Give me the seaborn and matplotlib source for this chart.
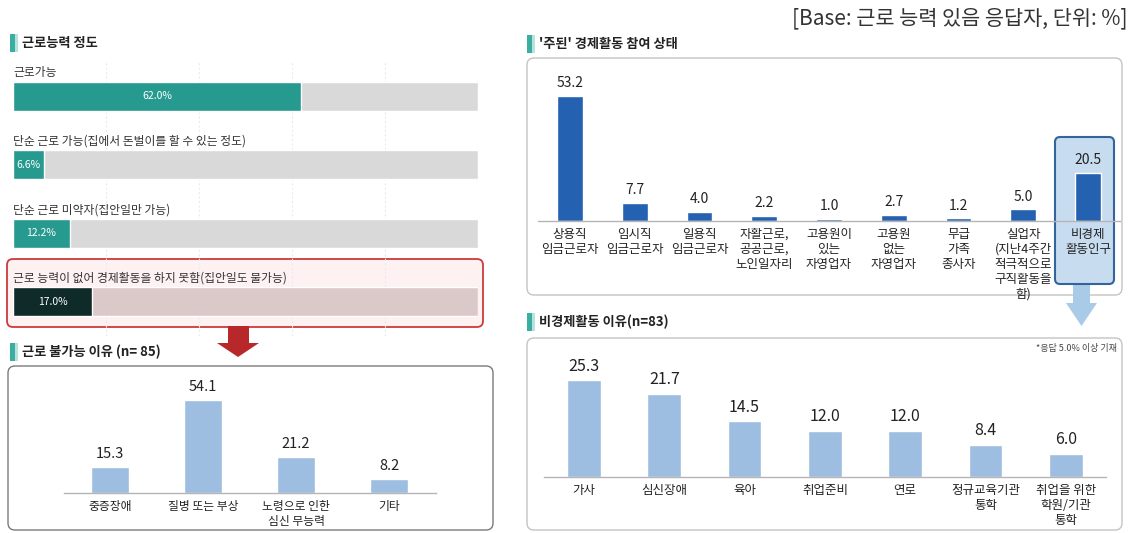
"""Recreate the work-ability / economic-activity infographic."""

import numpy as np
import pandas as pd
import seaborn as sns
import matplotlib.pyplot as plt
from matplotlib.patches import FancyBboxPatch, Rectangle, Polygon

# ---- data ----
ability_labels = ["근로가능", "단순 근로 가능(집에서 돈벌이를 할 수 있는 정도)",
                  "단순 근로 미약자(집안일만 가능)",
                  "근로 능력이 없어 경제활동을 하지 못함(집안일도 불가능)"]
ability_values = [62.0, 6.6, 12.2, 17.0]

unable_labels = ["중증장애", "질병 또는 부상", "노령으로 인한\n심신 무능력", "기타"]
unable_values = [15.3, 54.1, 21.2, 8.2]

status_labels = ["상용직\n임금근로자", "임시직\n임금근로자", "일용직\n임금근로자",
                 "자활근로,\n공공근로,\n노인일자리", "고용원이\n있는\n자영업자",
                 "고용원\n없는\n자영업자", "무급\n가족\n종사자",
                 "실업자\n(지난4주간\n적극적으로\n구직활동을\n함)", "비경제\n활동인구"]
status_values = [53.2, 7.7, 4.0, 2.2, 1.0, 2.7, 1.2, 5.0, 20.5]

inactive_labels = ["가사", "심신장애", "육아", "취업준비", "연로",
                   "정규교육기관\n통학", "취업을 위한\n학원/기관\n통학"]
inactive_values = [25.3, 21.7, 14.5, 12.0, 12.0, 8.4, 6.0]

W, H = 1140, 533
TEAL = "#279a8f"
LIGHT_BLUE = "#9dbee1"
DARK_BLUE = "#2462b1"

sns.set_style("white")
plt.rcParams["font.family"] = ["Noto Sans CJK KR", "DejaVu Sans"]

fig = plt.figure(figsize=(W / 100, H / 100), dpi=100)
bg = fig.add_axes([0, 0, 1, 1])
bg.set_xlim(0, W)
bg.set_ylim(H, 0)
bg.axis("off")


def px_ax(x0, y0, x1, y1):
    ax = fig.add_axes([x0 / W, 1 - y1 / H, (x1 - x0) / W, (y1 - y0) / H])
    ax.patch.set_alpha(0)
    return ax


def rbox(x0, y0, x1, y1, fc="white", ec="#c8c8c8", lw=1.0, r=7):
    bg.add_patch(FancyBboxPatch((x0, y0), x1 - x0, y1 - y0,
                                boxstyle=f"round,pad=0,rounding_size={r}",
                                fc=fc, ec=ec, lw=lw))


def title(x, y, text):
    bg.add_patch(Rectangle((x - 12, y - 9), 4.5, 18, fc="#3aaea0", ec="none"))
    bg.add_patch(Rectangle((x - 7.5, y - 9), 3, 18, fc="#b9e2dc", ec="none"))
    bg.text(x, y, text, fontsize=9.5, fontweight="bold", va="center", color="#222222")


# ---- decorations ----
bg.text(1128, 18, "[Base: 근로 능력 있음 응답자, 단위: %]", ha="right", va="center",
        fontsize=15, color="#333333")
title(22, 43, "근로능력 정도")
title(539, 44, "'주된' 경제활동 참여 상태")
title(22, 352, "근로 불가능 이유 (n= 85)")
title(539, 322, "비경제활동 이유(n=83)")

rbox(7, 259, 483, 327, fc="#fdf1f1", ec="#cc3a3d", lw=1.3, r=6)
rbox(8, 366, 493, 530, ec="#7a7a7a", lw=1.0)
rbox(527, 58, 1122, 295, ec="#c4c4c4", lw=1.0)
rbox(527, 338, 1122, 530, ec="#c4c4c4", lw=1.0)

# red arrow
bg.add_patch(Rectangle((228, 326), 21, 17, fc="#b8282a", ec="none"))
bg.add_patch(Polygon([(217, 343), (259, 343), (238, 357)], fc="#b8282a", ec="none"))
# blue arrow
bg.add_patch(Rectangle((1073, 285), 17, 18, fc="#a9cbe7", ec="none"))
bg.add_patch(Polygon([(1066, 303), (1097, 303), (1081.5, 326)], fc="#a9cbe7", ec="none"))
rbox(1055, 137, 1114, 284, fc="#c8dcf0", ec="#34649b", lw=1.5, r=5)

bg.text(1117, 348, "*응답 5.0% 이상 기재", ha="right", va="center", fontsize=6.5,
        color="#444444")

# ---- horizontal ability bars ----
hax = px_ax(13, 62, 478, 336)
hdf = pd.DataFrame({"cat": ability_labels, "val": ability_values,
                    "full": [100] * len(ability_values)})
sns.barplot(data=hdf, y="cat", x="full", hue="cat", orient="h", width=0.42,
            palette=["#d9d9d9", "#d9d9d9", "#d9d9d9", "#dbc8c8"], saturation=1,
            legend=False, ax=hax)
sns.barplot(data=hdf, y="cat", x="val", hue="cat", orient="h", width=0.42,
            palette=[TEAL, TEAL, TEAL, "#0e2a29"], saturation=1,
            legend=False, ax=hax)
hax.set_xlim(0, 100)
hax.set_ylim(3.5, -0.5)
hax.set_xticks([20, 40, 60, 80, 100])
hax.set_xticklabels([])
hax.set_yticks([])
hax.tick_params(length=0)
hax.grid(axis="x", color="#ebebeb", lw=0.8, ls=(0, (2, 2)))
hax.set_axisbelow(True)
hax.set_xlabel("")
hax.set_ylabel("")
for s in hax.spines.values():
    s.set_visible(False)
for i, (lab, v) in enumerate(zip(ability_labels, ability_values)):
    hax.text(0, i - 0.25, lab, ha="left", va="bottom", fontsize=8.5,
             color="#333333", clip_on=False)
    hax.text(v / 2, i, f"{v:.1f}%", ha="center", va="center", fontsize=7.5,
             color="white")


# ---- vertical bar charts ----
def vbars(ax, cats, vals, color, width, ymax, vfs, cfs):
    df = pd.DataFrame({"cat": cats, "val": vals})
    sns.barplot(data=df, x="cat", y="val", color=color, width=width,
                saturation=1, ax=ax)
    n = len(cats)
    ax.set_xlim(-0.5, n - 0.5)
    ax.set_ylim(0, ymax)
    ax.bar_label(ax.containers[0], fmt="%.1f", padding=4, fontsize=vfs,
                 color="#222222")
    for side in ["top", "left", "right"]:
        ax.spines[side].set_visible(False)
    ax.spines["bottom"].set_color("#b5b5b5")
    ax.spines["bottom"].set_linewidth(1.0)
    ax.set_yticks([])
    ax.set_xticks(range(n))
    ax.set_xticklabels(cats, fontsize=cfs, color="#222222", linespacing=1.2)
    ax.set_xticks(np.arange(-0.5, n), minor=True)
    ax.tick_params(axis="x", which="major", length=0, pad=5)
    ax.tick_params(axis="x", which="minor", length=4, color="#b5b5b5", width=1)
    ax.set_xlabel("")
    ax.set_ylabel("")


ax1 = px_ax(63.5, 380, 435.5, 493)
vbars(ax1, unable_labels, unable_values, LIGHT_BLUE, 0.4, 113 / 1.72, 10.5, 8.5)

ax2 = px_ax(537.6, 80, 1120.4, 221)
vbars(ax2, status_labels, status_values, DARK_BLUE, 0.4, 141 / 2.35, 10, 9)

ax3 = px_ax(543.8, 370, 1106, 477)
vbars(ax3, inactive_labels, inactive_values, LIGHT_BLUE, 0.42, 107 / 3.83, 11.5, 9)

fig.savefig("out.png", dpi=100)
